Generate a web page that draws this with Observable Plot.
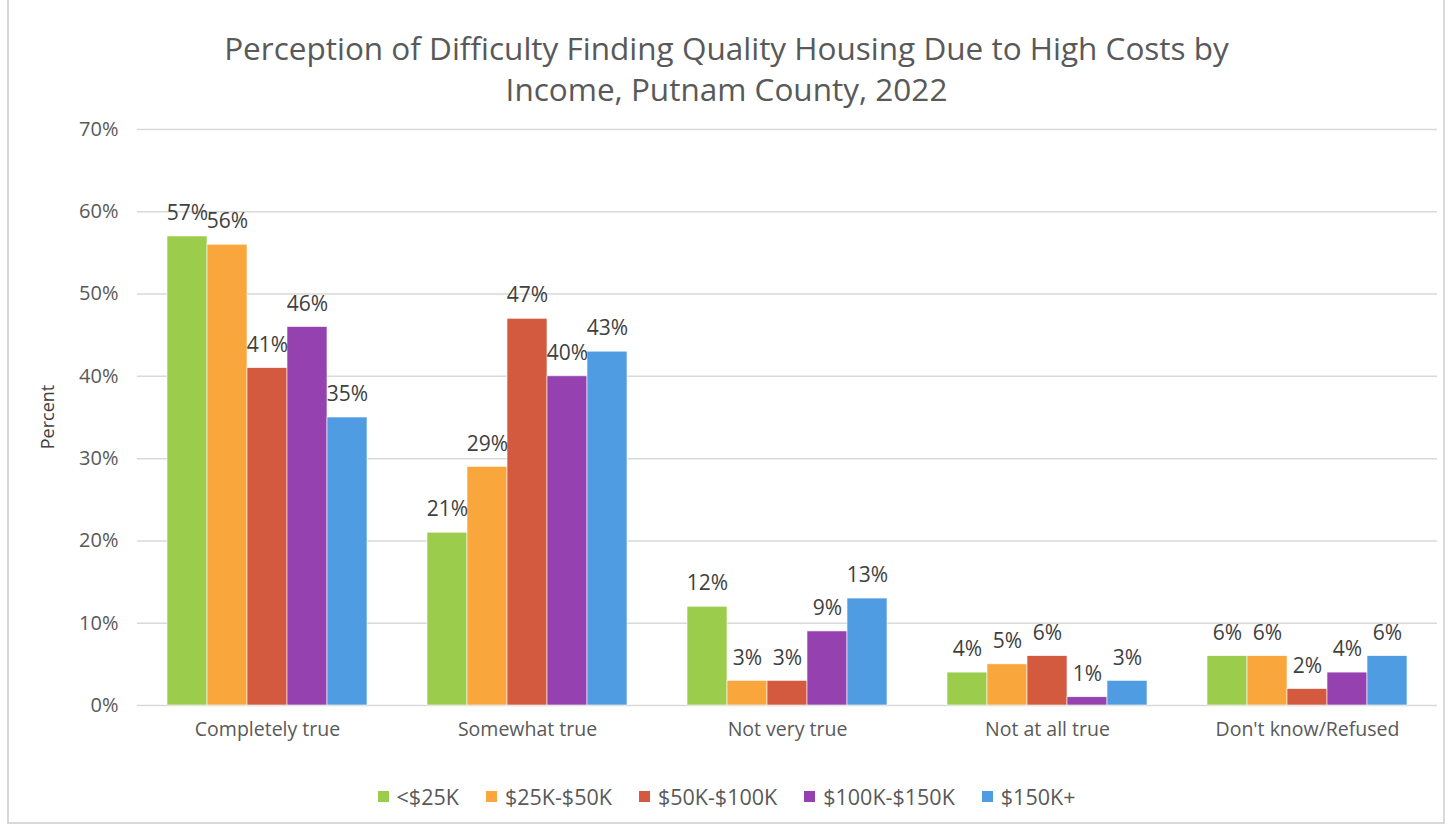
<!DOCTYPE html>
<html>
<head>
<meta charset="utf-8">
<script src="https://cdn.jsdelivr.net/npm/d3@7"></script>
<script src="https://cdn.jsdelivr.net/npm/@observablehq/plot@0.6"></script>
<style>
  body { margin:0; background:#fff; font-family:"Open Sans", sans-serif; color:#595959; }
  #frame { position:absolute; left:7px; top:-2px; width:1438px; height:826px; border:2px solid #d9d9d9; box-sizing:border-box; }
  #title { position:absolute; left:0; width:1453px; top:27px; text-align:center; font-size:31.5px; line-height:41px; color:#595959; }
  #ylabel { position:absolute; left:47px; top:417px; transform:translate(-50%,-50%) rotate(-90deg); font-size:18px; color:#404040; }
  #chart { position:absolute; left:0; top:110px; }
  #legend { position:absolute; left:0; width:1453px; top:782px; display:flex; justify-content:center; gap:27px; font-size:21.5px; color:#595959; }
  #legend .it { display:flex; align-items:center; gap:8px; }
  #legend .sw { width:11px; height:11px; display:inline-block; }
</style>
</head>
<body>
<div id="frame"></div>
<div id="title">Perception of Difficulty Finding Quality Housing Due to High Costs by<br>Income, Putnam County, 2022</div>
<div id="ylabel">Percent</div>
<div id="chart"></div>
<div id="legend"></div>
<script>
const categories = ["Completely true","Somewhat true","Not very true","Not at all true","Don't know/Refused"];
const series = ["<$25K","$25K-$50K","$50K-$100K","$100K-$150K","$150K+"];
const colors = ["#9BCC4B","#F9A73C","#D45A3F","#9541B0","#4F9CE3"];
const valsUnder25 = [57,21,12,4,6];
const vals25to50 = [56,29,3,5,6];
const vals50to100 = [41,47,3,6,2];
const vals100to150 = [46,40,9,1,4];
const vals150plus = [35,43,13,3,6];
const yTicks = [0,10,20,30,40,50,60,70];

const seriesValues = [valsUnder25, vals25to50, vals50to100, vals100to150, vals150plus];
const data = [];
series.forEach((s,i)=>categories.forEach((c,j)=>data.push({cat:c, series:s, value:seriesValues[i][j]})));

const font = "'Open Sans', sans-serif";
const chart = Plot.plot({
  width:1453, height:640,
  marginTop:19, marginLeft:137, marginRight:16, marginBottom:45,
  style:{fontFamily:font, color:"#595959", background:"transparent"},
  fx:{domain:categories, padding:0, label:null, axis:null},
  x:{domain:series, axis:null, paddingInner:0, paddingOuter:0.715},
  y:{domain:[0,70], axis:null},
  color:{domain:series, range:colors},
  marks:[
    Plot.ruleY(yTicks, {stroke:"#d9d9d9", strokeWidth:1.5}),
    Plot.axisY(yTicks, {tickSize:0, tickPadding:19, tickFormat:d=>d+"%", fontSize:20, label:null, fill:"#595959"}),
    Plot.axisFx({anchor:"bottom", tickSize:0, tickPadding:17, fontSize:19.5, label:null, fill:"#595959"}),
    Plot.barY(data, {fx:"cat", x:"series", y:"value", fill:"series", stroke:"white", strokeWidth:0.6}),
    Plot.text(data, {fx:"cat", x:"series", y:"value", text:d=>d.value+"%", dy:-23, fontSize:21, fill:"#404040"})
  ]
});
document.getElementById("chart").appendChild(chart);

const legend = document.getElementById("legend");
series.forEach((s,i)=>{
  const it = document.createElement("div"); it.className="it";
  const sw = document.createElement("span"); sw.className="sw"; sw.style.background=colors[i];
  const t = document.createElement("span"); t.textContent=s;
  it.appendChild(sw); it.appendChild(t); legend.appendChild(it);
});
</script>
</body>
</html>
